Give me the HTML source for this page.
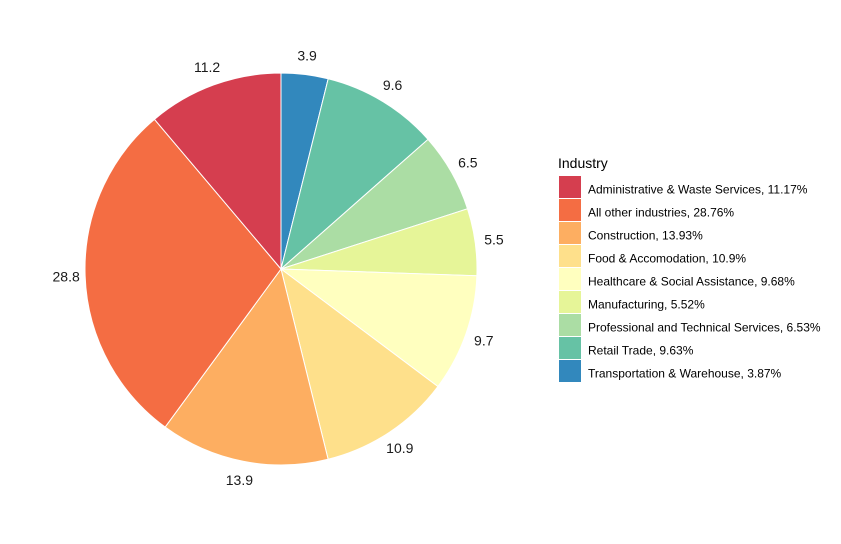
<!DOCTYPE html>
<html><head><meta charset="utf-8"><style>
html,body{margin:0;padding:0;background:#fff;}
svg text{font-family:"Liberation Sans",Arial,sans-serif;}
</style></head><body>
<svg id="s" width="841" height="539" xmlns="http://www.w3.org/2000/svg">
<rect width="841" height="539" fill="#fff"/>
<g id="pie"></g>
<text x="558" y="168" font-size="14" fill="#000">Industry</text>
<g id="leg"></g>
</svg>
<script>
var data=[
["Administrative & Waste Services, 11.17%",11.17,"#D53E4F","11.2"],
["All other industries, 28.76%",28.76,"#F46D43","28.8"],
["Construction, 13.93%",13.93,"#FDAE61","13.9"],
["Food & Accomodation, 10.9%",10.9,"#FEE08B","10.9"],
["Healthcare & Social Assistance, 9.68%",9.68,"#FFFFBF","9.7"],
["Manufacturing, 5.52%",5.52,"#E6F598","5.5"],
["Professional and Technical Services, 6.53%",6.53,"#ABDDA4","6.5"],
["Retail Trade, 9.63%",9.63,"#66C2A5","9.6"],
["Transportation & Warehouse, 3.87%",3.87,"#3288BD","3.9"]];
var cx=281,cy=269,R=196,tot=0;data.forEach(d=>tot+=d[1]);
var ns="http://www.w3.org/2000/svg",pie=document.getElementById("pie"),leg=document.getElementById("leg");
function pt(f,r){var a=f*2*Math.PI;return [cx+r*Math.sin(a),cy-r*Math.cos(a)];}
var cum=0,order=data.slice().reverse(),labels=[];
order.forEach(d=>{var f0=cum/tot,f1=(cum+d[1])/tot;cum+=d[1];
var p0=pt(f0,R),p1=pt(f1,R),large=(f1-f0)>0.5?1:0;
var p=document.createElementNS(ns,"path");
p.setAttribute("d","M"+cx+","+cy+"L"+p0[0]+","+p0[1]+"A"+R+","+R+" 0 "+large+" 1 "+p1[0]+","+p1[1]+"Z");
p.setAttribute("fill",d[2]);p.setAttribute("stroke","#fff");p.setAttribute("stroke-width","1");pie.appendChild(p);
var lp=pt((f0+f1)/2,215);labels.push([lp,d[3]]);});
labels.forEach(l=>{var t=document.createElementNS(ns,"text");t.setAttribute("x",l[0][0]);t.setAttribute("y",l[0][1]+5);
t.setAttribute("text-anchor","middle");t.setAttribute("font-size","14");t.setAttribute("fill","#1a1a1a");t.textContent=l[1];pie.appendChild(t);});
data.forEach((d,i)=>{var y=176+i*23;var r=document.createElementNS(ns,"rect");
r.setAttribute("x",559);r.setAttribute("y",y);r.setAttribute("width",22);r.setAttribute("height",22);r.setAttribute("fill",d[2]);leg.appendChild(r);
var t=document.createElementNS(ns,"text");t.setAttribute("x",588);t.setAttribute("y",y+17.5);t.setAttribute("font-size","12");t.setAttribute("fill","#000");t.textContent=d[0];leg.appendChild(t);});
</script>
</body></html>
